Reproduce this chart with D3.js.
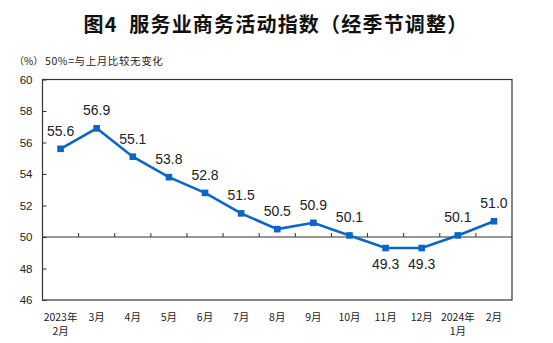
<!DOCTYPE html>
<html><head><meta charset="utf-8">
<script src="https://cdn.jsdelivr.net/npm/d3@7"></script>
<style>body{margin:0;background:#fff}svg{display:block}</style>
</head><body>
<svg id="c" width="553" height="343"></svg>
<script>
const categories = ["2023年\n2月","3月","4月","5月","6月","7月","8月","9月","10月","11月","12月","2024年\n1月","2月"];
const values = [55.6,56.9,55.1,53.8,52.8,51.5,50.5,50.9,50.1,49.3,49.3,50.1,51.0];
const yTicks = [46,48,50,52,54,56,58,60];
const title = "图4\u00a0\u00a0服务业商务活动指数（经季节调整）";
const unitLabel = "（%）";
const note = "50%=与上月比较无变化";

const svg = d3.select("#c");
const L = 42.5, R = 512, T = 79.5, B = 300;
const x = d3.scaleBand().domain(categories).range([L, R]);
const y = d3.scaleLinear().domain([46, 60]).range([B, T]);
const blue = "#0a66c8";
const cjk = "'Noto Sans CJK SC','Liberation Sans',sans-serif";

svg.append("text").attr("x", 276).attr("y", 32).attr("text-anchor","middle")
  .attr("font-family", cjk).attr("font-weight","bold").attr("font-size", 20).attr("letter-spacing", 1.2).attr("fill","#111").text(title);
svg.append("text").attr("x", 14).attr("y", 65).attr("font-family", cjk).attr("font-size", 10).attr("fill","#222").text(unitLabel);
svg.append("text").attr("x", 45).attr("y", 65).attr("font-family", cjk).attr("font-size", 10.5).attr("letter-spacing", 0.6).attr("fill","#222").text(note);

// frame
svg.append("rect").attr("x", L).attr("y", T).attr("width", R-L).attr("height", B-T)
  .attr("fill","none").attr("stroke","#333").attr("stroke-width",1.2);

// y axis ticks (inward) + labels
const yAxis = d3.axisLeft(y).tickValues(yTicks).tickSize(-4).tickPadding(10).tickFormat(d3.format("d"));
const gy = svg.append("g").attr("transform",`translate(${L},0)`).call(yAxis);
gy.select(".domain").remove();
gy.selectAll("line").attr("stroke","#333");
gy.selectAll("text").attr("font-family","'Liberation Sans',Arial,sans-serif").attr("font-size",11.5).attr("fill","#222");

// 50 line with category ticks
const y50 = y(50);
svg.append("line").attr("x1",L).attr("x2",R).attr("y1",y50).attr("y2",y50).attr("stroke","#333").attr("stroke-width",1.2);
const bounds = categories.slice(1).map(c => x(c));
svg.append("g").selectAll("line").data(bounds).join("line")
  .attr("x1",d=>d).attr("x2",d=>d).attr("y1",y50).attr("y2",y50-4).attr("stroke","#333").attr("stroke-width",1);

// x labels
const gx = svg.append("g");
categories.forEach((c,i) => {
  const lines = c.split("\n");
  const t = gx.append("text").attr("text-anchor","middle").attr("font-family",cjk).attr("font-size",10.5).attr("fill","#222");
  lines.forEach((ln,j) => t.append("tspan").attr("x", x(c)+x.bandwidth()/2).attr("y", 321 + j*14).text(ln));
});

// line
const cx = (d,i) => x(categories[i]) + x.bandwidth()/2;
svg.append("path").datum(values)
  .attr("d", d3.line().x(cx).y(d=>y(d)))
  .attr("fill","none").attr("stroke",blue).attr("stroke-width",2.6);
svg.append("g").selectAll("rect").data(values).join("rect")
  .attr("x",(d,i)=>cx(d,i)-3.3).attr("y",d=>y(d)-3.3).attr("width",6.6).attr("height",6.6).attr("fill",blue);

// value labels
svg.append("g").selectAll("text").data(values).join("text")
  .attr("x",(d,i)=>cx(d,i)).attr("y",d=> d < 50 ? y(d)+21 : y(d)-13)
  .attr("text-anchor","middle").attr("font-family","'Liberation Sans',Arial,sans-serif").attr("font-size",14).attr("fill","#222")
  .text(d=>d.toFixed(1));
</script>
</body></html>
